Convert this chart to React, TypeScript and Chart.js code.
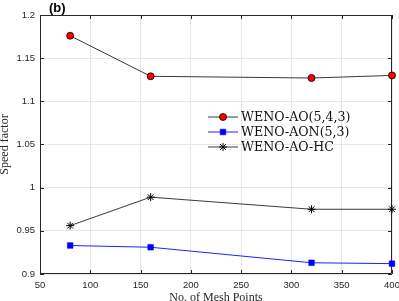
import React, { useEffect, useRef } from 'react';
import { Chart, registerables } from 'chart.js';

Chart.register(...registerables);

const meshPoints = [80, 160, 320, 400];
const aoSpeed = [1.176, 1.129, 1.127, 1.13];
const aonSpeed = [0.933, 0.931, 0.913, 0.912];
const hcSpeed = [0.956, 0.989, 0.975, 0.975];
const seriesLabels = ['WENO-AO(5,4,3)', 'WENO-AON(5,3)', 'WENO-AO-HC'];
const xTicks = [50, 100, 150, 200, 250, 300, 350, 400];
const yTicks = [0.9, 0.95, 1, 1.05, 1.1, 1.15, 1.2];
const xTitle = 'No. of Mesh Points';
const yTitle = 'Speed factor';
const panelLabel = '(b)';

const AXIS = '#262626';

function drawMarker(ctx: CanvasRenderingContext2D, style: string, x: number, y: number, r: number, fill: string, stroke: string, bw: number) {
  ctx.save();
  ctx.fillStyle = fill;
  ctx.strokeStyle = stroke;
  ctx.lineWidth = bw;
  ctx.beginPath();
  if (style === 'circle') {
    ctx.arc(x, y, r, 0, Math.PI * 2);
    ctx.fill();
    ctx.stroke();
  } else if (style === 'rect') {
    const s = Math.SQRT1_2 * r;
    ctx.rect(x - s, y - s, 2 * s, 2 * s);
    ctx.fill();
    ctx.stroke();
  } else if (style === 'star') {
    for (let k = 0; k < 4; k++) {
      const a = (k * Math.PI) / 4;
      ctx.moveTo(x - Math.cos(a) * r, y - Math.sin(a) * r);
      ctx.lineTo(x + Math.cos(a) * r, y + Math.sin(a) * r);
    }
    ctx.stroke();
  }
  ctx.restore();
}

const framePlugin = {
  id: 'frame',
  beforeDatasetsDraw(chart: any) {
    const { ctx, chartArea } = chart;
    const { left, right, top, bottom } = chartArea;
    const xs = chart.scales.x;
    const ys = chart.scales.y;
    ctx.save();
    ctx.strokeStyle = AXIS;
    ctx.lineWidth = 1;
    ctx.beginPath();
    ctx.rect(Math.round(left) + 0.5, Math.round(top) + 0.5, Math.round(right - left) - 1, Math.round(bottom - top) - 1);
    ctx.stroke();
    const tl = 4;
    ctx.beginPath();
    xTicks.forEach((v) => {
      const px = Math.round(xs.getPixelForValue(v)) + 0.5;
      ctx.moveTo(px, bottom);
      ctx.lineTo(px, bottom - tl);
      ctx.moveTo(px, top);
      ctx.lineTo(px, top + tl);
    });
    yTicks.forEach((v) => {
      const py = Math.round(ys.getPixelForValue(v)) + 0.5;
      ctx.moveTo(left, py);
      ctx.lineTo(left + tl, py);
      ctx.moveTo(right, py);
      ctx.lineTo(right - tl, py);
    });
    ctx.stroke();
    ctx.restore();
  },
  afterDraw(chart: any) {
    const { ctx } = chart;
    ctx.save();
    ctx.fillStyle = '#000';
    ctx.font = "bold 13px 'Liberation Sans'";
    ctx.textBaseline = 'middle';
    ctx.textAlign = 'left';
    ctx.fillText(panelLabel, 49, 8);
    // legend
    const x0 = 208;
    const x1 = 238;
    const y0 = 117;
    const dy = 15;
    chart.data.datasets.forEach((ds: any, i: number) => {
      const y = y0 + i * dy;
      ctx.strokeStyle = ds.borderColor;
      ctx.lineWidth = 1;
      ctx.beginPath();
      ctx.moveTo(x0, y);
      ctx.lineTo(x1, y);
      ctx.stroke();
      drawMarker(ctx, ds.pointStyle, (x0 + x1) / 2, y, ds.pointRadius, ds.pointBackgroundColor, ds.pointBorderColor, ds.pointBorderWidth);
      ctx.fillStyle = '#111';
      ctx.font = "12.6px 'DejaVu Serif'";
      ctx.textBaseline = 'middle';
      ctx.fillText(ds.label, 241, y + 1);
    });
    ctx.restore();
  },
};

export default function App() {
  const ref = useRef<HTMLCanvasElement | null>(null);
  useEffect(() => {
    document.body.style.margin = '0';
    const canvas = ref.current;
    if (!canvas) return;
    const chart = new Chart(canvas, {
      type: 'line',
      data: {
        datasets: [
          {
            label: seriesLabels[0],
            data: meshPoints.map((x, i) => ({ x, y: aoSpeed[i] })),
            borderColor: '#3a3a3a',
            borderWidth: 1,
            pointStyle: 'circle',
            pointRadius: 3.5,
            pointBackgroundColor: '#ff0000',
            pointBorderColor: '#000000',
            pointBorderWidth: 0.8,
            clip: false,
          },
          {
            label: seriesLabels[1],
            data: meshPoints.map((x, i) => ({ x, y: aonSpeed[i] })),
            borderColor: '#2020ff',
            borderWidth: 1,
            pointStyle: 'rect',
            pointRadius: 4,
            pointBackgroundColor: '#0000ff',
            pointBorderColor: '#0000ff',
            pointBorderWidth: 0.5,
            clip: false,
          },
          {
            label: seriesLabels[2],
            data: meshPoints.map((x, i) => ({ x, y: hcSpeed[i] })),
            borderColor: '#3a3a3a',
            borderWidth: 1,
            pointStyle: 'star',
            pointRadius: 4,
            pointBackgroundColor: '#000000',
            pointBorderColor: '#000000',
            pointBorderWidth: 1,
            clip: false,
          },
        ] as any,
      },
      options: {
        responsive: false,
        animation: false,
        events: [],
        layout: { padding: { left: 0, top: 15, right: 7, bottom: 0 } },
        plugins: { legend: { display: false }, tooltip: { enabled: false } },
        scales: {
          x: {
            type: 'linear',
            min: 50,
            max: 400,
            afterBuildTicks: (s: any) => {
              s.ticks = xTicks.map((v) => ({ value: v }));
            },
            afterFit: (s: any) => {
              s.height = 27;
              s.paddingLeft = 0;
              s.paddingRight = 0;
            },
            grid: { color: '#e6e6e6', drawTicks: false, lineWidth: 1 },
            border: { display: false },
            ticks: {
              padding: 6,
              maxRotation: 0,
              color: AXIS,
              font: { family: "'Liberation Sans'", size: 9.5 },
              callback: (v: any) => String(v),
            },
            title: {
              display: true,
              text: xTitle,
              color: AXIS,
              font: { family: "'Liberation Serif'", size: 12, lineHeight: 0.8 },
              padding: { top: 0, bottom: -2 },
            },
          },
          y: {
            type: 'linear',
            min: 0.9,
            max: 1.2,
            afterBuildTicks: (s: any) => {
              s.ticks = yTicks.map((v) => ({ value: v }));
            },
            afterFit: (s: any) => {
              s.width = 40;
              s.paddingTop = 0;
              s.paddingBottom = 0;
            },
            grid: { color: '#e6e6e6', drawTicks: false, lineWidth: 1 },
            border: { display: false },
            ticks: {
              padding: 5,
              color: AXIS,
              font: { family: "'Liberation Sans'", size: 9.5 },
              callback: (v: any) => String(Math.round(Number(v) * 100) / 100),
            },
            title: {
              display: true,
              text: yTitle,
              color: AXIS,
              font: { family: "'Liberation Serif'", size: 12, lineHeight: 0.8 },
              padding: { top: 0, bottom: 0 },
            },
          },
        },
      } as any,
      plugins: [framePlugin],
    });
    return () => chart.destroy();
  }, []);
  return (
    <div style={{ width: 399, height: 301 }}>
      <canvas ref={ref} width={399} height={301} style={{ display: 'block' }} />
    </div>
  );
}
